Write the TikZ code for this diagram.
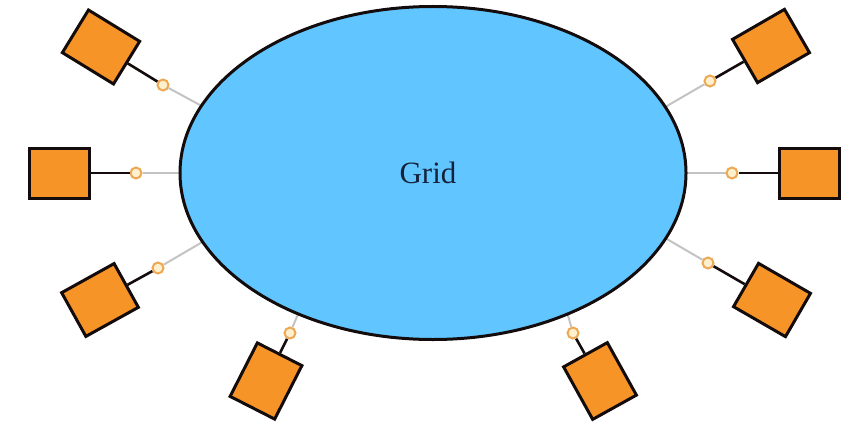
\documentclass[tikz,border=0pt]{standalone}
\usepackage{fontspec}
\setmainfont{Liberation Serif}
\usetikzlibrary{shapes.geometric,backgrounds,calc}
\definecolor{gridblue}{RGB}{97,198,255}
\definecolor{boxorange}{RGB}{247,148,40}
\definecolor{edgedark}{RGB}{20,12,12}
\definecolor{ringorange}{RGB}{236,168,84}
\definecolor{ringfill}{RGB}{255,240,205}
\definecolor{textnavy}{RGB}{22,34,60}
\definecolor{linkgray}{RGB}{195,195,195}
\tikzset{
  gridshape/.style={ellipse, draw=edgedark, fill=gridblue, line width=3pt,
    minimum width=506pt, minimum height=333pt, inner sep=0pt},
  devbox/.style={rectangle, draw=edgedark, fill=boxorange, line width=3pt,
    minimum width=60pt, minimum height=50pt, inner sep=0pt},
  ring/.style={circle, draw=ringorange, fill=ringfill, line width=2pt,
    minimum size=11pt, inner sep=0pt},
  darklink/.style={draw=edgedark, line width=2.6pt},
  graylink/.style={draw=linkgray, line width=2pt}
}
\begin{document}
\begin{tikzpicture}[x=1pt,y=1pt]
\useasboundingbox (0,0) rectangle (858,-425);
\node[gridshape] (grid) at (433,-173) {};
\node[font=\fontsize{31}{36}\selectfont, text=textnavy] (gridlabel) at (428,-173) {Grid};

% boxes
\node[devbox, rotate=-31.5] (b1) at (101,-47) {};
\node[devbox] (b2) at (59,-173) {};
\node[devbox, rotate=29] (b3) at (100,-300) {};
\node[devbox, rotate=63] (b4) at (266,-381) {};
\node[devbox, rotate=-61] (b5) at (600,-381) {};
\node[devbox, rotate=30] (b6) at (771,-46) {};
\node[devbox] (b7) at (809,-173) {};
\node[devbox, rotate=-30] (b8) at (772,-300) {};

% rings
\node[ring] (c1) at (163,-85) {};
\node[ring] (c2) at (136,-173) {};
\node[ring] (c3) at (158,-268) {};
\node[ring] (c4) at (290,-333) {};
\node[ring] (c5) at (573,-333) {};
\node[ring] (c6) at (710,-81) {};
\node[ring] (c7) at (732,-173) {};
\node[ring] (c8) at (708,-263) {};

% inner ends of gray links (hidden under the ellipse)
\coordinate (e1) at (211,-111);
\coordinate (e2) at (191,-173);
\coordinate (e3) at (216,-234);
\coordinate (e4) at (302,-305);
\coordinate (e5) at (565,-305);
\coordinate (e6) at (660,-110);
\coordinate (e7) at (675,-173);
\coordinate (e8) at (660,-235);

\begin{scope}[on background layer]
  \foreach \i in {1,...,8} { \draw[graylink] (c\i) -- (e\i); }
\end{scope}

\foreach \i in {1,...,8} { \draw[darklink] (b\i) -- (c\i); }
\end{tikzpicture}
\end{document}
